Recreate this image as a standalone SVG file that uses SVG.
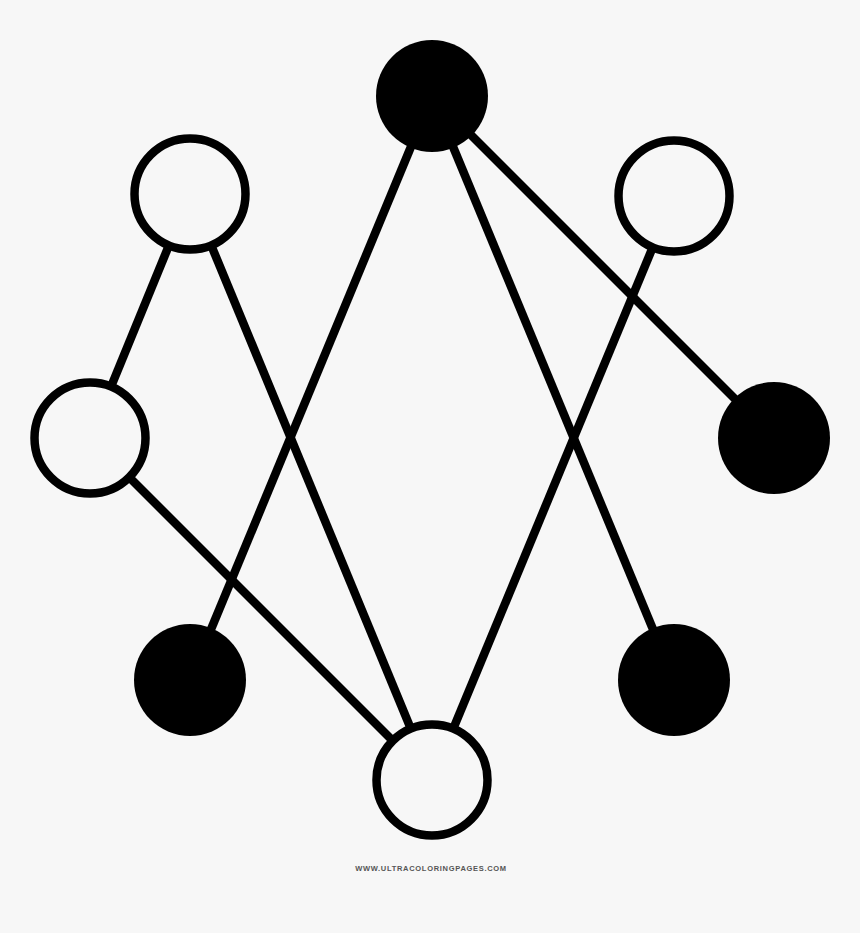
<svg xmlns="http://www.w3.org/2000/svg" width="860" height="933" viewBox="0 0 860 933">
<style>
.edge{stroke:#000;stroke-width:8.5;fill:none;stroke-linecap:butt}
.open{fill:#f7f7f7;stroke:#000;stroke-width:8.5}
.solid{fill:#000}
.credit{font-family:"Liberation Sans",Arial,sans-serif;font-size:7.5px;font-weight:bold;fill:#555;letter-spacing:0.7px}
</style>
<rect width="860" height="933" fill="#f7f7f7"/>
<g id="connectors">
<line class="edge" x1="432" y1="96" x2="190" y2="680"/>
<line class="edge" x1="432" y1="96" x2="674" y2="680"/>
<line class="edge" x1="432" y1="96" x2="774" y2="438"/>
<line class="edge" x1="190" y1="194" x2="90" y2="438"/>
<line class="edge" x1="190" y1="194" x2="432" y2="780"/>
<line class="edge" x1="90" y1="438" x2="432" y2="780"/>
<line class="edge" x1="674" y1="196" x2="432" y2="780"/>
</g>
<g id="n-top"><circle class="solid" cx="432" cy="96" r="56"/></g>
<g id="n-topleft"><circle class="open" cx="190" cy="194" r="55.5"/></g>
<g id="n-topright"><circle class="open" cx="674" cy="196" r="55.5"/></g>
<g id="n-left"><circle class="open" cx="90" cy="438" r="55.5"/></g>
<g id="n-right"><circle class="solid" cx="774" cy="438" r="56"/></g>
<g id="n-bottomleft"><circle class="solid" cx="190" cy="680" r="56"/></g>
<g id="n-bottomright"><circle class="solid" cx="674" cy="680" r="56"/></g>
<g id="n-bottom"><circle class="open" cx="432" cy="780" r="55.5"/></g>
<text class="credit" x="431" y="871" text-anchor="middle">WWW.ULTRACOLORINGPAGES.COM</text>
</svg>
